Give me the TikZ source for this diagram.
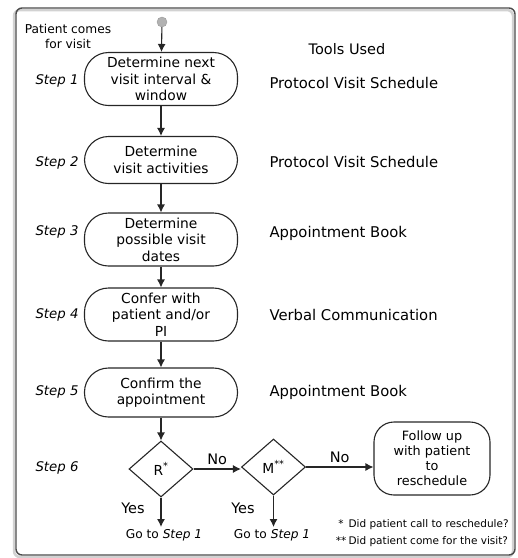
\documentclass[tikz,border=0pt]{standalone}
\usepackage{fontspec}
\setmainfont{DejaVu Sans}
\usetikzlibrary{shapes.geometric,arrows.meta}
\begin{document}
\begin{tikzpicture}[x=1pt,y=-1pt,
  line/.style={draw=black!85, line width=1.1pt},
  arr/.style={line, -{Latex[length=8pt,width=8pt]}},
  proc/.style={line, rectangle, rounded corners=24pt, minimum width=153pt, align=center, inner sep=1pt,
    font=\fontsize{13.8}{16.5}\selectfont},
  dec/.style={line, diamond, minimum width=64pt, minimum height=56pt, inner sep=0pt, font=\fontsize{13.8}{16}\selectfont},
  steplbl/.style={font=\fontsize{13.3}{16}\selectfont\itshape},
  tool/.style={anchor=west, font=\fontsize{14.8}{17}\selectfont},
  lbl/.style={font=\fontsize{14.5}{17}\selectfont},
  small/.style={font=\fontsize{12.2}{15}\selectfont},
  foot/.style={anchor=west, font=\fontsize{10.5}{12.5}\selectfont}]
\useasboundingbox (0,0) rectangle (518,558);
% frame with soft shadow
\draw[gray!35, line width=2.5pt, rounded corners=6pt] (14,10) rectangle (513,557);
\draw[draw=black!70, line width=1.4pt, rounded corners=6pt] (16,8) rectangle (515,555);

% start
\node[circle, draw=gray!80, fill=gray!60, minimum size=10pt, inner sep=0pt] (start) at (162,22) {};
\node[small, align=center] (ptxt) at (68,36) {Patient comes\\for visit};
\node[lbl] (tools) at (347,49) {Tools Used};

% process boxes
\node[proc, minimum height=53pt] (b1) at (161,79) {Determine next\\visit interval \&\\window};
\node[proc, minimum height=47pt] (b2) at (161,160) {Determine\\visit activities};
\node[proc, minimum height=53pt] (b3) at (161,239.5) {Determine\\possible visit\\dates};
\node[proc, minimum height=53pt] (b4) at (161,314.5) {Confer with\\patient and/or\\PI};
\node[proc, minimum height=49pt] (b5) at (161,392.5) {Confirm the\\appointment};

% decisions
\node[dec] (r) at (161,469) {R\textsuperscript{*}};
\node[dec] (m) at (273.5,467) {M\textsuperscript{**}};
\node[proc, minimum width=116pt, minimum height=73pt, rounded corners=20pt, font=\fontsize{12.8}{15}\selectfont] (fu) at (432,458.5) {Follow up\\with patient\\to\\reschedule};

% step labels
\node[steplbl] (s1) at (57,81) {Step 1};
\node[steplbl] (s2) at (57,163) {Step 2};
\node[steplbl] (s3) at (57,232) {Step 3};
\node[steplbl] (s4) at (57,315) {Step 4};
\node[steplbl] (s5) at (57,392) {Step 5};
\node[steplbl] (s6) at (57,468) {Step 6};

% tools
\node[tool] (t1) at (266,83) {Protocol Visit Schedule};
\node[tool] (t2) at (266,162) {Protocol Visit Schedule};
\node[tool] (t3) at (266,233) {Appointment Book};
\node[tool] (t4) at (266,315) {Verbal Communication};
\node[tool] (t5) at (266,392) {Appointment Book};

% connectors
\draw[arr] (start) -- (b1);
\draw[arr] (b1) -- (b2);
\draw[arr] (b2) -- (b3);
\draw[arr] (b3) -- (b4);
\draw[arr] (b4) -- (b5);
\draw[arr] (b5) -- (r);
\draw[arr] (r.east) -- (m.west |- r.east) node[midway, above, yshift=0pt, lbl] (no1) {No};
\draw[arr] (m.east) -- (fu.west |- m.east) node[midway, above, yshift=0pt, lbl] (no2) {No};
\coordinate (g1) at (161,527);
\coordinate (g2) at (273.5,527);
\draw[arr] (r.south) -- (g1);
\draw[arr] (m.south) -- (g2);
\node[lbl] (y1) at (133,508) {Yes};
\node[lbl] (y2) at (243,508) {Yes};
\node[small] (go1) at (164,535) {Go to \textit{Step 1}};
\node[small] (go2) at (272,535) {Go to \textit{Step 1}};

% footnotes
\node[foot] (f1) at (330,525) {\makebox[15pt][c]{*}Did patient call to reschedule?};
\node[foot] (f2) at (330,542) {\makebox[15pt][c]{**}Did patient come for the visit?};
\end{tikzpicture}
\end{document}
